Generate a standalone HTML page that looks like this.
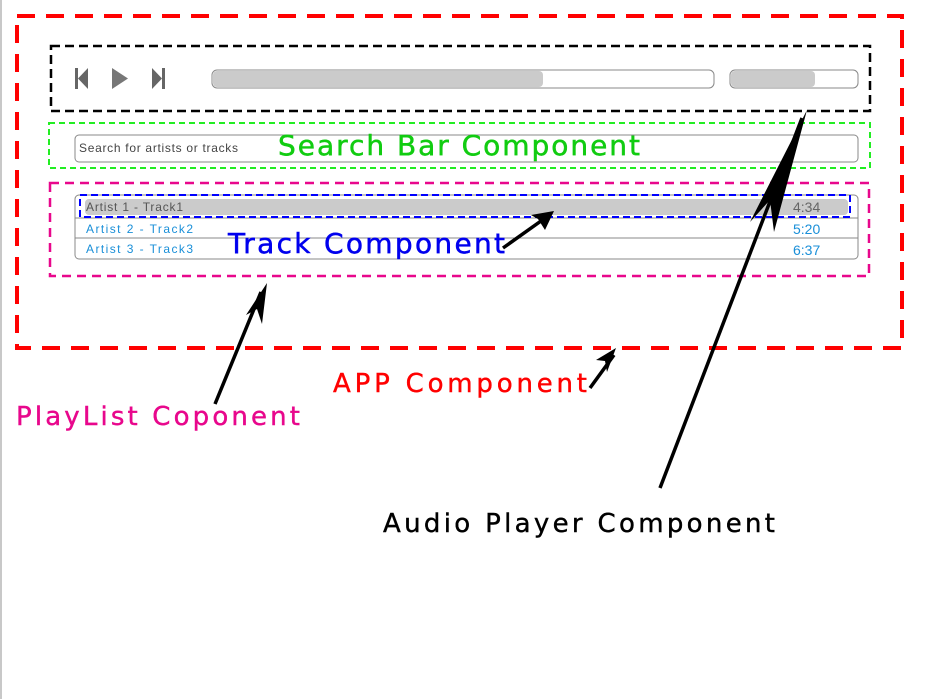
<!DOCTYPE html>
<html><head><meta charset="utf-8"><style>
html,body{margin:0;padding:0;background:#fff;width:931px;height:699px;overflow:hidden}
svg{display:block}
.h{font-family:"DejaVu Sans","Liberation Sans",sans-serif}
</style></head><body>
<svg width="931" height="699" viewBox="0 0 931 699" xmlns="http://www.w3.org/2000/svg">
<rect x="0" y="0" width="2" height="699" fill="#c8c8c8"/>
<rect x="17" y="16" width="885" height="332" fill="none" stroke="#ff0000" stroke-width="4" stroke-dasharray="18,11"/>
<rect x="51" y="46" width="819" height="65" fill="none" stroke="#000" stroke-width="2.5" stroke-dasharray="9,5"/>
<rect x="75" y="68" width="3" height="21" fill="#666"/>
<polygon points="78,78.5 88,68 88,89" fill="#666"/>
<polygon points="112,68 128,78.5 112,89" fill="#777"/>
<polygon points="152,68 162,78.5 152,89" fill="#666"/>
<rect x="162" y="68" width="3" height="21" fill="#666"/>
<rect x="212" y="70" width="502" height="18" rx="5" fill="#fff" stroke="#888" stroke-width="1"/>
<rect x="213" y="71" width="330" height="16" rx="4" fill="#cbcbcb"/>
<rect x="730" y="70" width="128" height="18" rx="5" fill="#fff" stroke="#888" stroke-width="1"/>
<rect x="731" y="71" width="84" height="16" rx="4" fill="#cbcbcb"/>
<rect x="49" y="123" width="821" height="45" fill="none" stroke="#22ee22" stroke-width="2" stroke-dasharray="6,4"/>
<rect x="75" y="135" width="783" height="27" rx="4" fill="#fff" stroke="#888" stroke-width="1"/>
<text x="79" y="152" font-family="Liberation Sans, sans-serif" font-size="12" fill="#444" textLength="159">Search for artists or tracks</text>
<text x="278" y="155" class="h" font-size="28" fill="#11cc11" stroke="#11cc11" stroke-width="0.5" textLength="362">Search Bar Component</text>
<rect x="50" y="183" width="819" height="93" fill="none" stroke="#e8078c" stroke-width="2.5" stroke-dasharray="9,6"/>
<rect x="75" y="195" width="783" height="64" rx="4" fill="#fff" stroke="#888" stroke-width="1"/>
<rect x="85" y="199" width="763" height="16" rx="4" fill="#cbcbcb"/>
<line x1="75" y1="218" x2="858" y2="218" stroke="#888" stroke-width="1"/>
<line x1="75" y1="238" x2="858" y2="238" stroke="#888" stroke-width="1"/>
<rect x="80" y="195" width="770" height="22" fill="none" stroke="#0000ff" stroke-width="2" stroke-dasharray="7,4"/>
<text x="86" y="211" font-family="Liberation Sans, sans-serif" font-size="12" fill="#555" textLength="97">Artist 1 - Track1</text>
<text x="86" y="233" font-family="Liberation Sans, sans-serif" font-size="12" fill="#1a8fd8" textLength="107">Artist 2 - Track2</text>
<text x="86" y="253" font-family="Liberation Sans, sans-serif" font-size="12" fill="#1a8fd8" textLength="107">Artist 3 - Track3</text>
<text x="793" y="212" font-family="Liberation Sans, sans-serif" font-size="14" fill="#666">4:34</text>
<text x="793" y="234" font-family="Liberation Sans, sans-serif" font-size="14" fill="#1a8fd8">5:20</text>
<text x="793" y="255" font-family="Liberation Sans, sans-serif" font-size="14" fill="#1a8fd8">6:37</text>
<text x="228" y="253" class="h" font-size="28" fill="#0000ee" stroke="#0000ee" stroke-width="0.5" textLength="277">Track Component</text>
<text x="333" y="392" class="h" font-size="26" fill="#ff0000" stroke="#ff0000" stroke-width="0.4" textLength="254">APP Component</text>
<text x="16" y="425" class="h" font-size="26" fill="#e8078c" stroke="#e8078c" stroke-width="0.4" textLength="284">PlayList Coponent</text>
<text x="383" y="532" class="h" font-size="26" fill="#000" stroke="#000" stroke-width="0.4" textLength="392">Audio Player Component</text>
<g stroke="#000" stroke-width="3.5" fill="none">
<line x1="503" y1="248" x2="548" y2="216"/>
<line x1="590" y1="388" x2="614" y2="355"/>
<line x1="215" y1="404" x2="261" y2="292"/>
<line x1="660" y1="488" x2="802" y2="118"/>
</g>
<g fill="#000">
<polygon points="554,211 531,215 538,219 545,230"/>
<polygon points="616,348 596,360 605,361 607,372"/>
<polygon points="267,283 246,315 257,309 262,324"/>
<polygon points="807,110 750,222 770,200 774,232"/>
</g>
</svg>
</body></html>
